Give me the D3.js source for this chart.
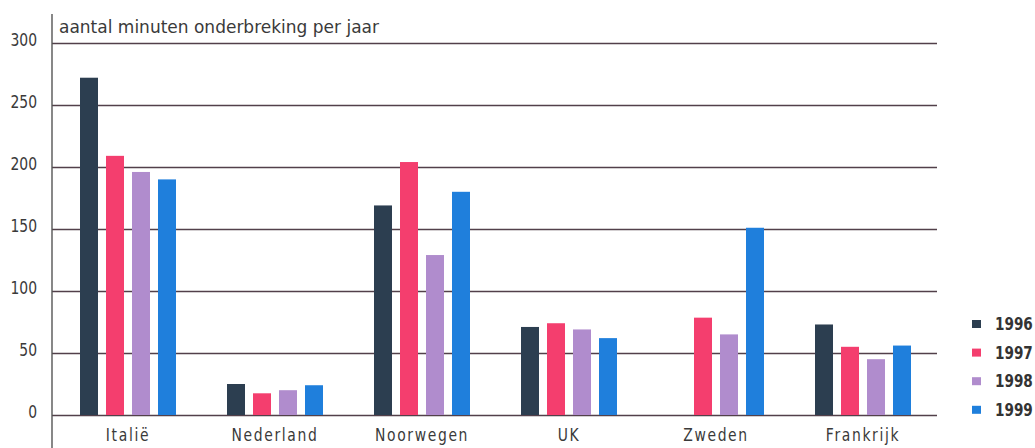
<!DOCTYPE html>
<html>
<head>
<meta charset="utf-8">
<script src="https://cdn.jsdelivr.net/npm/d3@7"></script>
<style>
  body { margin: 0; background: #fff; }
  svg { display: block; }
  text { font-family: "DejaVu Sans", sans-serif; }
</style>
</head>
<body>
<div id="chart"></div>
<script>
// Data
const countries = ['Italië', 'Nederland', 'Noorwegen', 'UK', 'Zweden', 'Frankrijk'];
const years = ['1996', '1997', '1998', '1999'];
const v1996 = [272, 25, 169, 71, 0, 73];
const v1997 = [209, 17.5, 204, 74, 78.5, 55];
const v1998 = [196, 20, 129, 69, 65, 45];
const v1999 = [190, 24, 180, 62, 151, 56];
const yTicks = [0, 50, 100, 150, 200, 250, 300];
const colors = ['#2c3e50', '#f43e6e', '#b08ccd', '#1f7fdc'];
const title = 'aantal minuten onderbreking per jaar';

const series = [v1996, v1997, v1998, v1999];
const W = 1035;
const H = 448;
const axisX = 52;
const gridRight = 937;
const narrow = 0.82; // fake condensed face

const svg = d3.select('#chart')
  .append('svg')
  .attr('width', W)
  .attr('height', H);

// Scales
const scaleY = d3.scaleLinear().domain([0, 300]).range([415, 43]);

const x0 = d3.scaleBand()
  .domain(countries)
  .range([80, 911])
  .paddingInner(51 / 147)
  .paddingOuter(0);

const x1 = d3.scaleBand()
  .domain(years)
  .range([0, x0.bandwidth()])
  .paddingInner(8 / 26)
  .paddingOuter(0);

const color = d3.scaleOrdinal().domain(years).range(colors);

// Grid + y labels
const yAxis = d3.axisLeft(scaleY)
  .tickValues(yTicks)
  .tickSizeInner(-(gridRight - axisX))
  .tickSizeOuter(0)
  .tickPadding(15);

const gy = svg.append('g')
  .attr('transform', `translate(${axisX}, 0)`)
  .call(yAxis);

gy.select('.domain').remove();
gy.selectAll('.tick line')
  .attr('stroke', '#52404a')
  .attr('stroke-width', 1.6);
gy.selectAll('.tick text')
  .attr('fill', '#3a3a3a')
  .attr('x', -15 / narrow)
  .attr('dy', '2px')
  .attr('transform', `scale(${narrow}, 1)`)
  .style('font-family', '"DejaVu Sans", sans-serif')
  .style('font-size', '17px');

// Bars
const rows = countries.map((c, i) => ({ country: c, values: years.map((y, j) => ({ year: y, value: series[j][i] })) }));

const groups = svg.append('g')
  .selectAll('g')
  .data(rows)
  .join('g')
  .attr('transform', d => `translate(${x0(d.country)}, 0)`);

groups.selectAll('rect')
  .data(d => d.values.filter(v => v.value > 0))
  .join('rect')
  .attr('x', d => x1(d.year))
  .attr('width', x1.bandwidth())
  .attr('y', d => scaleY(d.value))
  .attr('height', d => scaleY(0) - scaleY(d.value))
  .attr('fill', d => color(d.year));

// Axis line
svg.append('line')
  .attr('x1', axisX)
  .attr('x2', axisX)
  .attr('y1', 14)
  .attr('y2', H)
  .attr('stroke', '#555')
  .attr('stroke-width', 1.4);

// Category labels
svg.append('g')
  .attr('transform', `scale(${narrow}, 1)`)
  .selectAll('text')
  .data(countries)
  .join('text')
  .attr('x', d => (x0(d) + x0.bandwidth() / 2) / narrow)
  .attr('y', 441)
  .attr('text-anchor', 'middle')
  .attr('fill', '#3a3a3a')
  .style('font-size', '17px')
  .style('letter-spacing', '2px')
  .text(d => d);

// Title
svg.append('text')
  .attr('x', 59)
  .attr('y', 33)
  .attr('fill', '#3a3a3a')
  .style('font-size', '17px')
  .text(title);

// Legend
const legend = svg.append('g')
  .selectAll('g')
  .data(years)
  .join('g')
  .attr('transform', (d, i) => `translate(972, ${320 + i * 28.6})`);

legend.append('rect')
  .attr('width', 9)
  .attr('height', 8)
  .attr('fill', d => color(d));

legend.append('text')
  .attr('x', 23 / 0.8)
  .attr('y', 10)
  .attr('transform', 'scale(0.8, 1)')
  .attr('fill', '#333')
  .style('font-weight', 'bold')
  .style('font-size', '17px')
  .text(d => d);
</script>
</body>
</html>
